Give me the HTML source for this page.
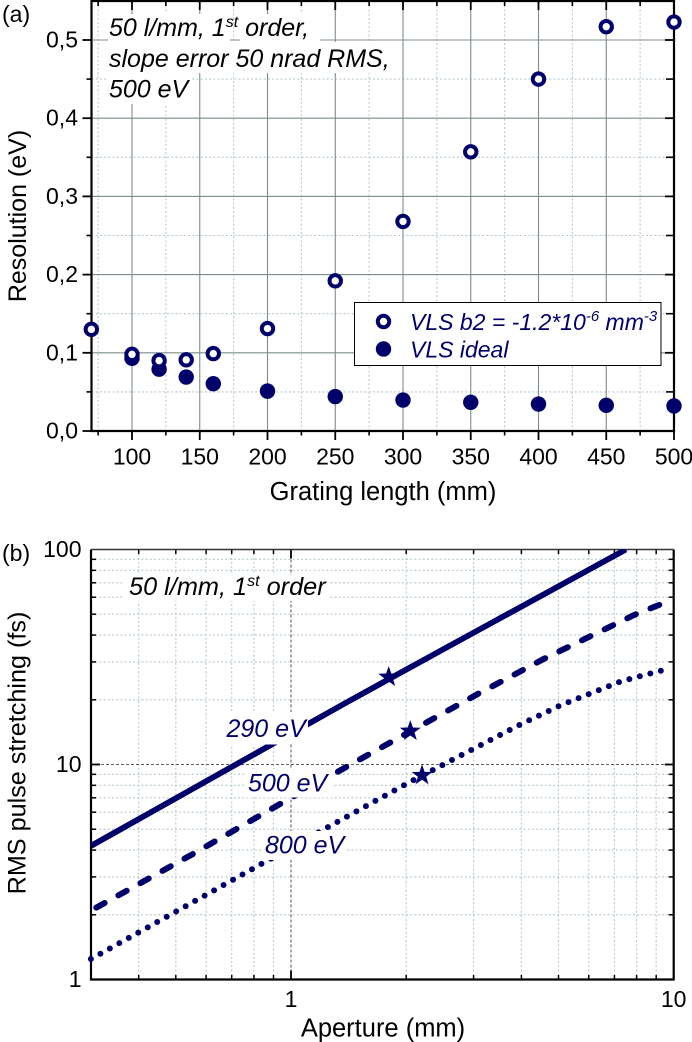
<!DOCTYPE html>
<html lang="en">
<head>
<meta charset="utf-8">
<title>Grating resolution and pulse stretching</title>
<style>
html,body{margin:0;padding:0;background:#fff;width:692px;height:1042px;overflow:hidden}
svg{display:block;font-family:"Liberation Sans",Arial,sans-serif}
text{fill:#000}
.navy{fill:#00006a}
.it{font-style:italic}
</style>
</head>
<body>
<svg id="fig" xmlns="http://www.w3.org/2000/svg" width="692" height="1042" viewBox="0 0 692 1042">
  <rect x="0" y="0" width="692" height="1042" fill="#fff"/>
  <g id="a-grid"></g>
  <g id="b-grid"></g>
  <g fill="#fff">
    <rect x="108" y="14" width="122" height="28"/>
    <rect x="240" y="14" width="80" height="28"/>
    <rect x="108" y="42" width="284" height="31"/>
    <rect x="108" y="73" width="82" height="31"/>
  </g>
  <g id="a-axes"></g>
  <g id="b-axes"></g>
  <g id="b-lines"></g>
  <g fill="#fff">
    <rect x="124" y="575" width="206" height="26"/>
    <rect x="225" y="712" width="83" height="32.5"/>
    <rect x="246" y="769" width="86" height="28.5"/>
    <rect x="263" y="831" width="84" height="29"/>
  </g>
  <g id="b-stars"></g>
  <g id="a-points"></g>

  <text x="2" y="22" font-size="23">(a)</text>
  <text x="2" y="561" font-size="23">(b)</text>

  <text x="383" y="500" font-size="25.5" text-anchor="middle">Grating length (mm)</text>
  <text transform="translate(26 216) rotate(-90)" font-size="25" text-anchor="middle">Resolution (eV)</text>
  <text x="383" y="1036.5" font-size="25.5" text-anchor="middle">Aperture (mm)</text>
  <text transform="translate(25.5 753) rotate(-90)" font-size="25.2" text-anchor="middle">RMS pulse stretching (fs)</text>

  <text class="it" x="109" y="36" font-size="25">50 l/mm, 1<tspan font-size="16" dy="-9">st</tspan><tspan dy="9"> order,</tspan></text>
  <text class="it" x="109" y="67" font-size="25">slope error 50 nrad RMS,</text>
  <text class="it" x="109" y="97.5" font-size="25">500 eV</text>

  <g>
    <rect x="354.5" y="302.5" width="306.5" height="63" fill="#fff" stroke="#000" stroke-width="1"/>
    <circle cx="383.5" cy="321.5" r="5.7" fill="#fff" stroke="#00006a" stroke-width="4"/>
    <circle cx="383.5" cy="349" r="7.7" fill="#00006a"/>
    <text class="it navy" x="410" y="330" font-size="23">VLS b2 = -1.2*10<tspan font-size="15" dy="-9">-6</tspan><tspan dy="9"> mm</tspan><tspan font-size="15" dy="-9">-3</tspan></text>
    <text class="it navy" x="410" y="357.5" font-size="23">VLS ideal</text>
  </g>

  <text class="it" x="129" y="595" font-size="25.3">50 l/mm, 1<tspan font-size="16" dy="-9">st</tspan><tspan dy="9"> order</tspan></text>
  <text class="it navy" x="226.5" y="737" font-size="25">290 eV</text>
  <text class="it navy" x="248" y="791.5" font-size="25">500 eV</text>
  <text class="it navy" x="265" y="853.5" font-size="25">800 eV</text>
</svg>
<script>
// Panel (a) data
const gratingLengths = [70, 100, 120, 140, 160, 200, 250, 300, 350, 400, 450, 500];
const resolutionB2 = [0.130, 0.098, 0.090, 0.091, 0.099, 0.131, 0.192, 0.268, 0.357, 0.450, 0.517, 0.523];
const idealLengths = [100, 120, 140, 160, 200, 250, 300, 350, 400, 450, 500];
const resolutionIdeal = [0.093, 0.079, 0.069, 0.0605, 0.051, 0.044, 0.0396, 0.0367, 0.0345, 0.0328, 0.032];
const aXTickLabels = ['100', '150', '200', '250', '300', '350', '400', '450', '500'];
const aXMinorTicks = [75, 125, 175, 225, 275, 325, 375, 425, 475];
const aYTickLabels = ['0,0', '0,1', '0,2', '0,3', '0,4', '0,5'];
const aYMinorTicks = [0.05, 0.15, 0.25, 0.35, 0.45];

// Panel (b) data
const solidAperture = [0.3, 1.392, 2.99, 7.5];
const solidStretch = [4.18, 19.38, 40.9, 100];
const dashedAperture = [0.31, 0.555, 0.936, 1.57, 3.08, 4.58, 7.88, 9.43];
const dashedStretch = [2.16, 3.84, 6.55, 10.95, 21.3, 31.0, 49.6, 56.4];
const dottedAperture = [0.3, 0.845, 1.335, 2.0, 2.99, 3.99, 5.08, 7.3, 9.4];
const dottedStretch = [1.245, 3.48, 5.46, 8.12, 11.8, 15.4, 18.9, 24.4, 27.5];
const starAperture = [1.8, 2.05, 2.2];
const starStretch = [25.5, 14.3, 8.9];
const bXTickLabels = ['1', '10'];
const bXMajorTicks = [1, 10];
const bXMinorTicks = [0.4, 0.5, 0.6, 0.7, 0.8, 0.9, 2, 3, 4, 5, 6, 7, 8, 9];
const bYTickLabels = ['1', '10', '100'];
const bYMajorTicks = [1, 10, 100];
const bYMinorTicks = [2, 3, 4, 5, 6, 7, 8, 9, 20, 30, 40, 50, 60, 70, 80, 90];

const NS = 'http://www.w3.org/2000/svg';
const NAVY = '#00006a';
function mk(tag, attrs, parent) {
  const node = document.createElementNS(NS, tag);
  for (const k in attrs) node.setAttribute(k, attrs[k]);
  parent.appendChild(node);
  return node;
}

// Axis functions
const AL = 91.5, AR = 674, AT = 1, AB = 431;
const xA = v => 132 + (v - 100) * (674 - 132) / 400;
const yA = v => 431 - v * 782;
const BL = 91, BR = 673.7, BT = 549.5, BB = 979.5;
const xB = v => 291 + Math.log10(v) * 382.7;
const yB = v => 979.5 - Math.log10(v) * 215;

const aGrid = document.getElementById('a-grid');
const aAxes = document.getElementById('a-axes');
const aPoints = document.getElementById('a-points');
const bGrid = document.getElementById('b-grid');
const bAxes = document.getElementById('b-axes');
const bLines = document.getElementById('b-lines');
const bStars = document.getElementById('b-stars');

const MINOR = { stroke: '#b6c9c9', 'stroke-width': 1.1, 'stroke-dasharray': '2 2.2' };
const MAJOR_A = { stroke: '#7d8c8c', 'stroke-width': 1.1 };
const MAJOR_B = { stroke: '#5a5f5f', 'stroke-width': 1.1, 'stroke-dasharray': '3 2' };
const TICK_FONT = 23;

// ---- Panel (a) grid and ticks ----
aXMinorTicks.forEach(v => {
  const g = mk('line', Object.assign({ x1: xA(v), x2: xA(v), y1: AT, y2: AB }, MINOR), aGrid);
  
  
  const t1 = mk('line', { x1: xA(v), x2: xA(v), y1: AB, y2: AB + 4.5, stroke: '#000', 'stroke-width': 1.6 }, aAxes);
  
  
  const t2 = mk('line', { x1: xA(v), x2: xA(v), y1: AT, y2: AT + 5, stroke: '#000', 'stroke-width': 1.6 }, aAxes);
  
  
});
aYMinorTicks.forEach(v => {
  const g = mk('line', Object.assign({ x1: AL, x2: AR, y1: yA(v), y2: yA(v) }, MINOR), aGrid);
  
  
  const t1 = mk('line', { x1: AL - 5, x2: AL, y1: yA(v), y2: yA(v), stroke: '#000', 'stroke-width': 1.6 }, aAxes);
  
  
  const t2 = mk('line', { x1: AR - 8, x2: AR, y1: yA(v), y2: yA(v), stroke: '#000', 'stroke-width': 1.6 }, aAxes);
  
  
});
aXTickLabels.forEach(label => {
  const v = Number(label);
  const g = mk('line', Object.assign({ x1: xA(v), x2: xA(v), y1: AT, y2: AB }, MAJOR_A), aGrid);
  
  
  const t1 = mk('line', { x1: xA(v), x2: xA(v), y1: AB, y2: AB + 9, stroke: '#000', 'stroke-width': 1.8 }, aAxes);
  
  
  const t2 = mk('line', { x1: xA(v), x2: xA(v), y1: AT, y2: AT + 9, stroke: '#000', 'stroke-width': 1.8 }, aAxes);
  
  
  const txt = mk('text', { x: xA(v), y: 464.5, 'font-size': TICK_FONT, 'text-anchor': 'middle' }, aAxes);
  txt.textContent = label;
  
  
});
aYTickLabels.forEach(label => {
  const v = Number(label.replace(',', '.'));
  if (v > 0) {
    const g = mk('line', Object.assign({ x1: AL, x2: AR, y1: yA(v), y2: yA(v) }, MAJOR_A), aGrid);
    
    
    const t2 = mk('line', { x1: AR - 9, x2: AR, y1: yA(v), y2: yA(v), stroke: '#000', 'stroke-width': 1.8 }, aAxes);
    
    
  }
  const t1 = mk('line', { x1: AL - 9, x2: AL, y1: yA(v), y2: yA(v), stroke: '#000', 'stroke-width': 1.8 }, aAxes);
  
  
  const txt = mk('text', { x: 78, y: yA(v) + 7.5, 'font-size': TICK_FONT, 'text-anchor': 'end' }, aAxes);
  txt.textContent = label;
  
  
});
const aFrame = mk('path', { d: `M${AL} ${AT}H${AR}V${AB}H${AL}Z`, fill: 'none', stroke: '#000', 'stroke-width': 2.2 }, aAxes);



// ---- Panel (a) points ----
idealLengths.forEach((v, i) => {
  const c = mk('circle', { cx: xA(v), cy: yA(resolutionIdeal[i]), r: 7.7, fill: NAVY }, aPoints);
  
  
});
gratingLengths.forEach((v, i) => {
  const c = mk('circle', { cx: xA(v), cy: yA(resolutionB2[i]), r: 5.7, fill: '#fff', stroke: NAVY, 'stroke-width': 4 }, aPoints);
  
  
});

// ---- Panel (b) grid and ticks ----
bXMinorTicks.forEach(v => {
  const g = mk('line', Object.assign({ x1: xB(v), x2: xB(v), y1: BT, y2: BB }, MINOR), bGrid);
  
  
  const t1 = mk('line', { x1: xB(v), x2: xB(v), y1: BB - 4.5, y2: BB, stroke: '#000', 'stroke-width': 1.5 }, bAxes);
  
  
  const t2 = mk('line', { x1: xB(v), x2: xB(v), y1: BT, y2: BT + 4.5, stroke: '#000', 'stroke-width': 1.5 }, bAxes);
  
  
});
bYMinorTicks.forEach(v => {
  const g = mk('line', Object.assign({ x1: BL, x2: BR, y1: yB(v), y2: yB(v) }, MINOR), bGrid);
  
  
  const t1 = mk('line', { x1: BL, x2: BL + 5, y1: yB(v), y2: yB(v), stroke: '#000', 'stroke-width': 1.5 }, bAxes);
  
  
  const t2 = mk('line', { x1: BR - 5, x2: BR, y1: yB(v), y2: yB(v), stroke: '#000', 'stroke-width': 1.5 }, bAxes);
  
  
});
bXMajorTicks.forEach((v, i) => {
  if (v < 10) {
    const g = mk('line', Object.assign({ x1: xB(v), x2: xB(v), y1: BT, y2: BB }, MAJOR_B), bGrid);
    
    
    const t1 = mk('line', { x1: xB(v), x2: xB(v), y1: BB - 9, y2: BB, stroke: '#000', 'stroke-width': 1.8 }, bAxes);
    
    
    const t2 = mk('line', { x1: xB(v), x2: xB(v), y1: BT, y2: BT + 9, stroke: '#000', 'stroke-width': 1.8 }, bAxes);
    
    
  }
  const txt = mk('text', { x: xB(v), y: 1007, 'font-size': TICK_FONT, 'text-anchor': 'middle' }, bAxes);
  txt.textContent = bXTickLabels[i];
  
  
});
bYMajorTicks.forEach((v, i) => {
  if (v === 10) {
    const g = mk('line', Object.assign({ x1: BL, x2: BR, y1: yB(v), y2: yB(v) }, MAJOR_B), bGrid);
    
    
    const t1 = mk('line', { x1: BL, x2: BL + 9, y1: yB(v), y2: yB(v), stroke: '#000', 'stroke-width': 1.8 }, bAxes);
    
    
    const t2 = mk('line', { x1: BR - 9, x2: BR, y1: yB(v), y2: yB(v), stroke: '#000', 'stroke-width': 1.8 }, bAxes);
    
    
  }
  const txt = mk('text', { x: 81.5, y: yB(v) + 7.5, 'font-size': TICK_FONT, 'text-anchor': 'end' }, bAxes);
  txt.textContent = bYTickLabels[i];
  
  
});
const bLeft = mk('path', { d: `M${BL} ${BT}V${BB}H${BR}V${BT}`, fill: 'none', stroke: '#000', 'stroke-width': 2.2 }, bAxes);


const bTop = mk('line', { x1: BL, x2: BR, y1: BT, y2: BT, stroke: '#333', 'stroke-width': 1.6 }, bAxes);



// ---- Panel (b) curves ----
const clip = mk('clipPath', { id: 'b-clip' }, document.getElementById('fig'));
mk('rect', { x: BL, y: BT, width: BR - BL, height: BB - BT }, clip);
const pathOf = (xs, ys) => xs.map((v, i) => (i ? 'L' : 'M') + xB(v).toFixed(2) + ' ' + yB(ys[i]).toFixed(2)).join('');

const solid = mk('path', { d: pathOf(solidAperture, solidStretch), fill: 'none', stroke: NAVY, 'stroke-width': 5.8, 'clip-path': 'url(#b-clip)' }, bLines);


const dashed = mk('path', { d: pathOf(dashedAperture, dashedStretch), fill: 'none', stroke: NAVY, 'stroke-width': 6, 'stroke-linecap': 'round', 'stroke-dasharray': '9.5 15.7' }, bLines);


const dotted = mk('path', { d: pathOf(dottedAperture, dottedStretch), fill: 'none', stroke: NAVY, 'stroke-width': 6, 'stroke-linecap': 'round', 'stroke-dasharray': '0 10.85' }, bLines);



function starPoints(cx, cy, R, r) {
  const pts = [];
  for (let i = 0; i < 10; i++) {
    const rad = i % 2 ? r : R;
    const ang = -Math.PI / 2 + i * Math.PI / 5;
    pts.push((cx + rad * Math.cos(ang)).toFixed(2) + ',' + (cy + rad * Math.sin(ang)).toFixed(2));
  }
  return pts.join(' ');
}
starAperture.forEach((v, i) => {
  const s = mk('polygon', { points: starPoints(xB(v), yB(starStretch[i]), 11, 4.4), fill: NAVY }, bStars);
  
  
});
</script>
</body>
</html>
